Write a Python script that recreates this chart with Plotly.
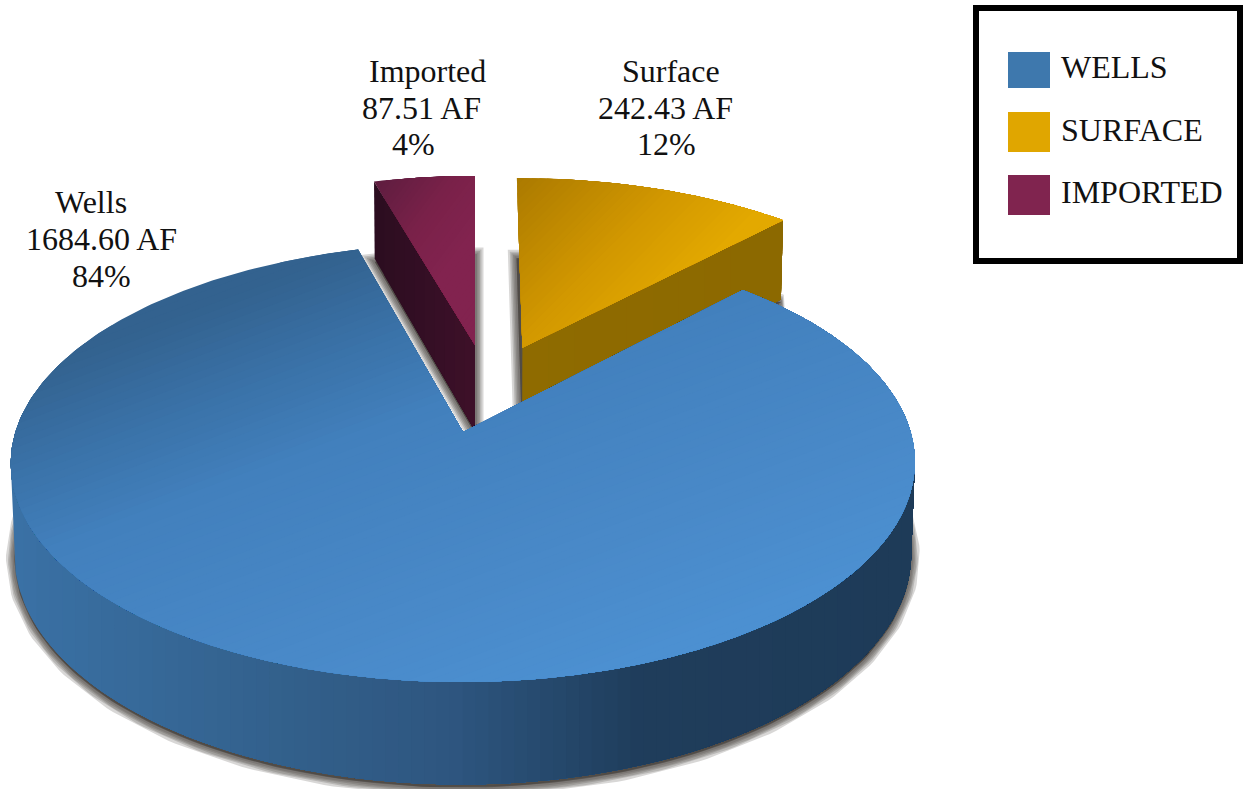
import math
import plotly.graph_objects as go

# Water supply by source, in acre-feet, in clockwise drawing order from 12 o'clock
sources = ["Surface", "Wells", "Imported"]
volumes = [242.43, 1684.60, 87.51]
legend_names = ["WELLS", "SURFACE", "IMPORTED"]
legend_colors = ["#3e78ad", "#e0a600", "#80244f"]
legend_tops = [52, 112, 175]
legend_bottoms = [88, 152, 215]
legend_text_y = [67, 130, 192]

# How far each slice is pulled out of the disc, in disc units (across, toward viewer)
slice_pull = {"Surface": (0.112, -0.415), "Wells": (-0.0268, 0.0), "Imported": (0.0, -0.429)}

# Label placement: line centres per slice
label_x = {"Surface": [671, 665, 666], "Wells": [90.5, 101, 101], "Imported": [427, 421, 413]}
label_y = {"Surface": [71, 108, 144], "Wells": [202, 239, 276], "Imported": [71, 108, 144]}

# Perspective projection of the unit disc onto the page
X0, Y0, A, K, H, P, Q = 475.0, 432.0, 447.6, 215.0, 91.0, 0.14, 0.008

# Colour ramps: (position along gradient, colour)
top_ramps = {
    "Wells": ((0.35, 0.94), [(359, "#33628f"), (449, "#3a72a8"), (535, "#4280bd"),
                             (720, "#4989c8"), (844, "#4c90d1")]),
    "Surface": ((0.7, 0.7), [(487, "#ab7a00"), (600, "#d19700"), (680, "#e3a900")]),
    "Imported": ((0.8, 0.6), [(400, "#5a1c3e"), (470, "#7a2149"), (520, "#82234f")]),
}
wall_ramp = ((1.0, 0.0), [(15, "#3a71a5"), (300, "#325f8a"), (450, "#2e5680"),
                          (640, "#1f3d5b"), (910, "#1e3b58")])
cut_ramps = {
    "Surface": ((1.0, 0.0), [(515, "#8f6b00"), (785, "#8c6900")]),
    "Imported": ((1.0, 0.0), [(370, "#2a0d1f"), (476, "#3e1029")]),
}


def proj(u, v, z=0.0):
    w = 1 - P * v + Q * z
    return X0 + A * u / w, Y0 + (K * v + H * z) / w


def rim(theta, pull, z=0.0):
    t = math.radians(theta)
    return proj(pull[0] + math.sin(t), pull[1] - math.cos(t), z)


def arc(t1, t2, pull, z=0.0, step=1.0):
    n = max(2, int(abs(t2 - t1) / step))
    return [rim(t1 + (t2 - t1) * i / n, pull, z) for i in range(n + 1)]


def half_clip(poly, d, limit, keep_below):
    out = []
    sign = 1 if keep_below else -1
    for i, a in enumerate(poly):
        b = poly[(i + 1) % len(poly)]
        fa = sign * (limit - (a[0] * d[0] + a[1] * d[1]))
        fb = sign * (limit - (b[0] * d[0] + b[1] * d[1]))
        if fa >= 0:
            out.append(a)
        if fa * fb < 0:
            s = fa / (fa - fb)
            out.append((a[0] + s * (b[0] - a[0]), a[1] + s * (b[1] - a[1])))
    return out


def hex_rgb(c):
    return tuple(int(c[i:i + 2], 16) for i in (1, 3, 5))


def ramp_color(stops, t):
    if t <= stops[0][0]:
        return stops[0][1]
    for (p0, c0), (p1, c1) in zip(stops, stops[1:]):
        if t <= p1:
            f = (t - p0) / (p1 - p0)
            r = [round(a + f * (b - a)) for a, b in zip(hex_rgb(c0), hex_rgb(c1))]
            return "#%02x%02x%02x" % tuple(r)
    return stops[-1][1]


fig = go.Figure()


def add_poly(poly, color, line_w=0.0, line_c=None):
    xs = [p[0] for p in poly] + [poly[0][0]]
    ys = [p[1] for p in poly] + [poly[0][1]]
    fig.add_trace(go.Scatter(x=xs, y=ys, mode="lines", fill="toself", fillcolor=color,
                             line=dict(width=line_w, color=line_c or color),
                             hoverinfo="skip", showlegend=False))


def add_graded(poly, ramp, bands):
    # Smooth shading: overlapping strips across the gradient direction, clipped to the face
    d, stops = ramp
    proj_vals = [p[0] * d[0] + p[1] * d[1] for p in poly]
    lo, hi = min(proj_vals), max(proj_vals)
    step = (hi - lo) / bands
    for i in range(bands):
        a = lo + i * step
        piece = half_clip(poly, d, a, False)
        if len(piece) >= 3:
            add_poly(piece, ramp_color(stops, a + step / 2))


def add_shadow(poly):
    shifted = [(x, y + 3) for x, y in poly]
    for width in (17, 13, 10, 7, 4):
        add_poly(shifted, "rgba(60,55,50,0.2)", width, "rgba(60,55,50,0.2)")


# Angular extent of each slice, clockwise from the top
total = sum(volumes)
spans = {}
start = 0.0
for name, vol in zip(sources, volumes):
    spans[name] = (start, start + 360.0 * vol / total)
    start = spans[name][1]

# Soft shadows cast by the underside of each slice
for name in sources:
    t1, t2 = spans[name]
    pull = slice_pull[name]
    add_shadow([proj(pull[0], pull[1], 1.0)] + arc(t1, t2, pull, 1.0))

# Pulled-out slices: cut face, then top face
for name, cut_theta in (("Imported", spans["Imported"][0]), ("Surface", spans["Surface"][1])):
    pull = slice_pull[name]
    t1, t2 = spans[name]
    cut = [proj(pull[0], pull[1]), rim(cut_theta, pull), rim(cut_theta, pull, 1.0),
           proj(pull[0], pull[1], 1.0)]
    add_graded(cut, cut_ramps[name], 10)
    add_graded([proj(pull[0], pull[1])] + arc(t1, t2, pull), top_ramps[name], 40)

# Main slice: outer wall facing the viewer, then the top face
pull = slice_pull["Wells"]
t1, t2 = spans["Wells"]
wall = arc(98, 262, pull) + arc(262, 98, pull, 1.0)
add_graded(wall, wall_ramp, 70)
add_graded([proj(pull[0], pull[1])] + arc(t1, t2, pull), top_ramps["Wells"], 70)

# Slice labels, computed from the volumes
FONT = "Liberation Serif"
for name, vol in zip(sources, volumes):
    lines = [name, f"{vol:.2f} AF", f"{round(100 * vol / total)}%"]
    for text, lx, ly in zip(lines, label_x[name], label_y[name]):
        fig.add_annotation(x=lx, y=ly, text=text, showarrow=False, xanchor="center", yanchor="middle",
                           font=dict(family=FONT, size=32, color="#111111"))

# Legend box with swatches
shapes = [dict(type="rect", xref="x", yref="y", x0=976, x1=1240, y0=8, y1=261,
               line=dict(color="#000000", width=6), fillcolor="#ffffff", layer="above")]
for name, color, top, bottom, ty in zip(legend_names, legend_colors, legend_tops, legend_bottoms, legend_text_y):
    shapes.append(dict(type="rect", xref="x", yref="y", x0=1008, x1=1050, y0=top, y1=bottom,
                       line=dict(width=0), fillcolor=color, layer="above"))
    fig.add_annotation(x=1058.5, y=ty, text=name, showarrow=False, xanchor="left", yanchor="middle",
                       font=dict(family=FONT, size=32, color="#111111"))

fig.update_layout(
    width=1246, height=789, margin=dict(l=0, r=0, t=0, b=0),
    paper_bgcolor="#ffffff", plot_bgcolor="#ffffff", showlegend=False, shapes=shapes,
    xaxis=dict(range=[0, 1246], visible=False, fixedrange=True),
    yaxis=dict(range=[789, 0], visible=False, fixedrange=True),
)
fig.write_html("out.html", config=dict(displayModeBar=False))
